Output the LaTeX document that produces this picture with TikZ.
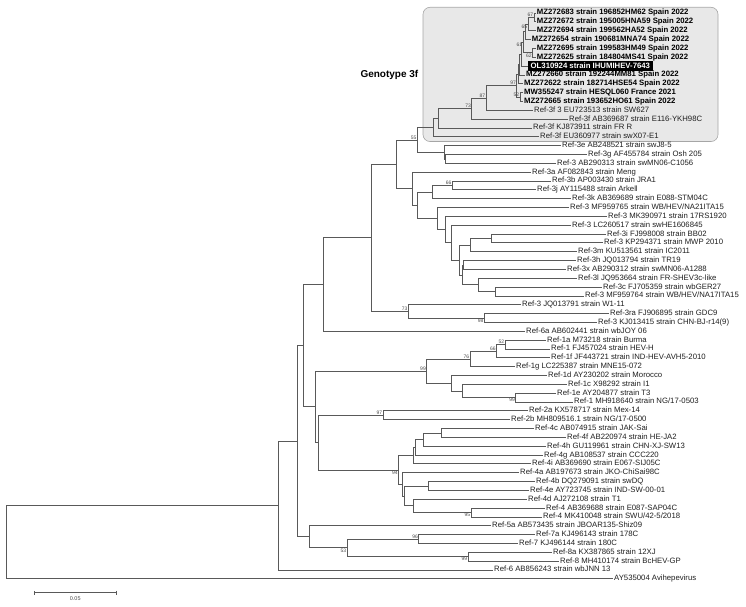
\documentclass[tikz,border=0pt]{standalone}
\usepackage{fontspec}
\setmainfont{Liberation Sans}
\usetikzlibrary{arrows.meta}

\begin{document}
\begin{tikzpicture}[x=1pt,y=-8.84pt,
  branch/.style={draw=black!65,line width=.7pt},
  leaf/.style={anchor=west,inner sep=1pt,text height=5.6pt,text depth=1.6pt,
    font=\fontsize{7.75}{8}\selectfont,text=black!88},
  crown/.style={leaf,font=\fontsize{7.75}{8}\selectfont\bfseries,text=black},
  boot/.style={inner sep=.6pt,font=\fontsize{5}{5}\selectfont,text=black!70}]
\useasboundingbox(0,-.4706)rectangle(746,68.19);
% genotype 3f box
\draw[fill=black!9,draw=black!35,line width=.6pt,rounded corners=7pt](423,.355)rectangle(718,15.54);
\node[anchor=east,inner sep=0pt,font=\fontsize{10}{12}\selectfont\bfseries](g3f)at(418.5,8.01){Genotype 3f};
% leaves
\node[crown,fill=black,text=white,inner xsep=2.5pt,inner ysep=1.2pt](l7)at(528,7){OL310924 strain IHUMIHEV-7643};
\foreach\i/\x/\t in{
 1/535.7/{MZ272683 strain 196852HM62 Spain 2022},
 2/535.7/{MZ272672 strain 195005HNA59 Spain 2022},
 3/535.7/{MZ272694 strain 199562HA52 Spain 2022},
 4/530.7/{MZ272654 strain 190681MNA74 Spain 2022},
 5/535.7/{MZ272695 strain 199583HM49 Spain 2022},
 6/535.7/{MZ272625 strain 184804MS41 Spain 2022},
 8/525/{MZ272660 strain 192244MM81 Spain 2022},
 9/523/{MZ272622 strain 182714HSE54 Spain 2022},
 10/523/{MW355247 strain HESQL060 France 2021},
 11/523/{MZ272665 strain 193652HO61 Spain 2022}}
 \node[crown](l\i)at(\x,\i){\t};
\foreach\i/\x/\t in{
 12/533/{Ref-3f 3 EU723513 strain SW627},
 13/568/{Ref-3f AB369687 strain E116-YKH98C},
 14/532/{Ref-3f KJ873911 strain FR R},
 15/539/{Ref-3f EU360977 strain swX07-E1},
 16/561/{Ref-3e AB248521 strain swJ8-5},
 17/587/{Ref-3g AF455784 strain Osh 205},
 18/556/{Ref-3 AB290313 strain swMN06-C1056},
 19/531/{Ref-3a AF082843 strain Meng},
 20/551/{Ref-3b AP003430 strain JRA1},
 21/536/{Ref-3j AY115488 strain Arkell},
 22/571/{Ref-3k AB369689 strain E088-STM04C},
 23/569/{Ref-3 MF959765 strain WB/HEV/NA21ITA15},
 24/607/{Ref-3 MK390971 strain 17RS1920},
 25/571/{Ref-3 LC260517 strain swHE1606845},
 26/606/{Ref-3i FJ998008 strain BB02},
 27/603/{Ref-3 KP294371 strain MWP 2010},
 28/577/{Ref-3m KU513561 strain IC2011},
 29/576/{Ref-3h JQ013794 strain TR19},
 30/566/{Ref-3x AB290312 strain swMN06-A1288},
 31/577/{Ref-3l JQ953664 strain FR-SHEV3c-like},
 32/602/{Ref-3c FJ705359 strain wbGER27},
 33/584/{Ref-3 MF959764 strain WB/HEV/NA17ITA15},
 34/521/{Ref-3 JQ013791 strain W1-11},
 35/609/{Ref-3ra FJ906895 strain GDC9},
 36/597/{Ref-3 KJ013415 strain CHN-BJ-r14(9)},
 37/525/{Ref-6a AB602441 strain wbJOY 06},
 38/546/{Ref-1a M73218 strain Burma},
 39/550/{Ref-1 FJ457024 strain HEV-H},
 40/550/{Ref-1f JF443721 strain IND-HEV-AVH5-2010},
 41/515/{Ref-1g LC225387 strain MNE15-072},
 42/547/{Ref-1d AY230202 strain Morocco},
 43/567/{Ref-1c X98292 strain I1},
 44/556/{Ref-1e AY204877 strain T3},
 45/573/{Ref-1 MH918640 strain NG/17-0503},
 46/528/{Ref-2a KX578717 strain Mex-14},
 47/510/{Ref-2b MH809516.1 strain NG/17-0500},
 48/534/{Ref-4c AB074915 strain JAK-Sai},
 49/566/{Ref-4f AB220974 strain HE-JA2},
 50/546/{Ref-4h GU119961 strain CHN-XJ-SW13},
 51/543/{Ref-4g AB108537 strain CCC220},
 52/531/{Ref-4i AB369690 strain E067-SIJ05C},
 53/519/{Ref-4a AB197673 strain JKO-ChiSai98C},
 54/535/{Ref-4b DQ279091 strain swDQ},
 55/529/{Ref-4e AY723745 strain IND-SW-00-01},
 56/527/{Ref-4d AJ272108 strain T1},
 57/545/{Ref-4 AB369688 strain E087-SAP04C},
 58/542/{Ref-4 MK410048 strain SWU/42-5/2018},
 59/491/{Ref-5a AB573435 strain JBOAR135-Shiz09},
 60/535/{Ref-7a KJ496143 strain 178C},
 61/518/{Ref-7 KJ496144 strain 180C},
 62/552/{Ref-8a KX387865 strain 12XJ},
 63/559/{Ref-8 MH410174 strain BcHEV-GP},
 64/493/{Ref-6 AB856243 strain wbJNN 13},
 65/613/{AY535004 Avihepevirus}}
 \node[leaf](l\i)at(\x,\i){\t};
% internal nodes
\foreach\n/\x/\r in{
 n67/534/1.5,n65/528/2.25,na/525.5/3.125,n62/532.5/5.5,n61/523/4.3125,
 nb/521/5.656,nc/519.5/6.828,nd/518/7.914,n52/520/10.5,n97/516.7/9.207,
 n87/486/10.6,n73/471.7/11.8,ne/438.3/12.9,nf/433.3/13.95,
 n3g/445.7/17.5,n3e/444/16.75,n55/417.3/15.35,
 n66/452.3/20.5,n3k/432.3/21.25,n491/491/26.5,n470/470.7/27.25,
 n3hx/463.5/29.5,n495/495/32.5,n478/478.3/31.75,nd2/462/30.625,
 n459/459.3/28.94,n451/451/26.97,n445/445.7/25.48,n437/437.3/24.24,
 n417/417.3/22.75,n412/412.3/20.87,n396/396.7/18.11,
 n98/484.3/35.5,n73b/408.3/34.75,nc3/371/26.43,n323/323.3/31.71,
 n52g/504.9/38.5,n66g/496.5/39.25,n76/470/40.125,n99b/515.7/44.5,
 n462/462.2/43.75,n451g/451.7/42.875,n99g/426.6/41.5,n97g/383/46.5,
 n441/441.5/48.5,n423/423/49.25,nbb/415/50.125,naa/413.3/51.06,
 n427/428/54.5,n95/471/57.5,n413/413/56.75,n404/404.3/55.625,
 n403/402.7/54.31,n94/398.5/52.69,n318/318.5/49.6,n315/315/45.55,
 n303/303.5/38.63,n96/418.7/60.5,n99e/468/62.5,n53/347/61.5,
 n309/309.3/60.25,n298/297.7/49.44,n278/278/56.72,root/6.7/60.86}
 \coordinate(\n)at(\x,\r);
% branches
\foreach\p/\c in{
 n67/l1,n67/l2,n65/n67,n65/l3,na/n65,na/l4,n62/l5,n62/l6,n61/na,n61/n62,
 nb/n61,nb/l7,nc/nb,nc/l8,nd/nc,nd/l9,n52/l10,n52/l11,n97/nd,n97/n52,
 n87/n97,n87/l12,n73/n87,n73/l13,ne/n73,ne/l14,nf/ne,nf/l15,
 n3g/l17,n3g/l18,n3e/l16,n3e/n3g,n55/nf,n55/n3e,
 n66/l20,n66/l21,n3k/n66,n3k/l22,n491/l26,n491/l27,n470/n491,n470/l28,
 n3hx/l29,n3hx/l30,n495/l32,n495/l33,n478/l31,n478/n495,nd2/n3hx,nd2/n478,
 n459/n470,n459/nd2,n451/l25,n451/n459,n445/l24,n445/n451,n437/l23,n437/n445,
 n417/n3k,n417/n437,n412/l19,n412/n417,n396/n55,n396/n412,
 n98/l35,n98/l36,n73b/l34,n73b/n98,nc3/n396,nc3/n73b,n323/nc3,n323/l37,
 n52g/l38,n52g/l39,n66g/n52g,n66g/l40,n76/n66g,n76/l41,n99b/l44,n99b/l45,
 n462/l43,n462/n99b,n451g/l42,n451g/n462,n99g/n76,n99g/n451g,n97g/l46,n97g/l47,
 n441/l48,n441/l49,n423/n441,n423/l50,nbb/n423,nbb/l51,naa/nbb,naa/l52,
 n427/l54,n427/l55,n95/l57,n95/l58,n413/l56,n413/n95,n404/n427,n404/n413,
 n403/l53,n403/n404,n94/naa,n94/n403,n318/n97g,n318/n94,n315/n99g,n315/n318,
 n303/n323,n303/n315,n96/l60,n96/l61,n99e/l62,n99e/l63,n53/n96,n53/n99e,
 n309/l59,n309/n53,n298/n303,n298/n309,n278/n298,n278/l64,root/n278,root/l65}
 \draw[branch](\p)|-(\c);
% bootstrap values
\foreach\n/\v/\s in{
 n67/67/above left,n65/65/below left,n61/61/below left,n62/62/below left,
 n97/97/above left,n52/52/above left,n87/87/above left,n73/73/above left,
 n55/55/above left,n66/66/above left,n73b/73/above left,n98/98/below left,
 n52g/52/above left,n66g/66/above left,n76/76/above left,n99g/99/above left,
 n99b/99/below left,n97g/97/above left,n94/94/below left,n95/95/below left,
 n96/96/above left,n53/53/below left,n99e/99/below left}
 \node[boot,\s]at(\n){\v};
% scale bar
\coordinate(s1)at(33.5,66.58);
\coordinate(s2)at(117,66.58);
\draw[branch,{Bar[width=4pt]}-{Bar[width=4pt]}](s1)--(s2)node[boot,midway,below=3pt,font=\fontsize{5.5}{6}\selectfont]{0.05};
\end{tikzpicture}
\end{document}
